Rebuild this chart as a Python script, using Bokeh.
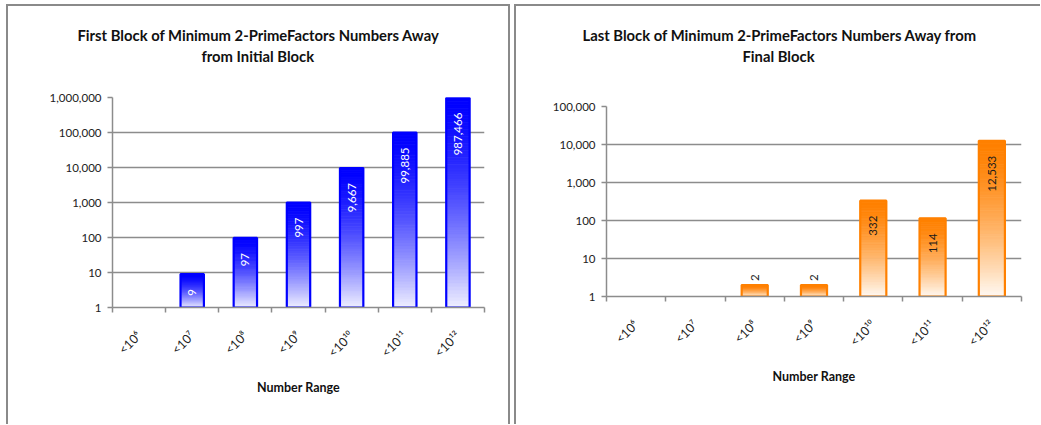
import math
from bokeh.plotting import figure
from bokeh.layouts import row, column
from bokeh.models import FixedTicker, NumeralTickFormatter, Range1d, ColumnDataSource, Title, Spacer
from bokeh.core.properties import value
from bokeh.embed import file_html
from bokeh.resources import INLINE

# ---- data ----
categories = ["<10⁶", "<10⁷", "<10⁸", "<10⁹", "<10¹⁰", "<10¹¹", "<10¹²"]
first_block = [0, 9, 97, 997, 9667, 99885, 987466]
last_block = [0, 0, 2, 2, 332, 114, 12533]
first_yticks = [1, 10, 100, 1000, 10000, 100000, 1000000]
last_yticks = [1, 10, 100, 1000, 10000, 100000]

title_first = ["First Block of Minimum 2-PrimeFactors Numbers Away", "from Initial Block"]
title_last = ["Last Block of Minimum 2-PrimeFactors Numbers Away from", "Final Block"]
x_title = "Number Range"

FONT = "Lato"
GRID = "#8c8c8c"
TITLE_SIZE = "14.8px"


def hex2rgb(h):
    h = h.lstrip("#")
    return tuple(int(h[i:i + 2], 16) for i in (0, 2, 4))


def mix(c1, c2, t):
    a, b = hex2rgb(c1), hex2rgb(c2)
    return "#%02x%02x%02x" % tuple(int(round(a[i] + (b[i] - a[i]) * t)) for i in range(3))


def style_title(t, offset, standoff):
    t.align = "left"
    t.offset = offset
    t.standoff = standoff
    t.text_font = FONT
    t.text_font_size = TITLE_SIZE
    t.text_font_style = "bold"
    t.text_color = "#111111"


def make_chart(values, yticks, title_lines, width, height, borders, title_offsets,
               spacer_standoff, top_col, bot_col, edge_col, label_col, bar_w):
    ml, mr, mt, mb = borders
    p = figure(width=width, height=height, y_axis_type="log",
               x_range=Range1d(0, len(categories)),
               y_range=Range1d(yticks[0], yticks[-1]),
               output_backend="svg", toolbar_location=None,
               min_border_left=ml, min_border_right=mr,
               min_border_top=mt, min_border_bottom=mb)
    p.frame_align = False
    p.outline_line_color = None
    p.background_fill_color = "white"
    p.border_fill_color = "white"

    # title: spacer (nearest the frame), second line, then first line (outermost)
    spacer = Title(text=" ")
    style_title(spacer, 0, spacer_standoff)
    p.add_layout(spacer, "above")
    line2 = Title(text=title_lines[1])
    style_title(line2, title_offsets[1], 1)
    p.add_layout(line2, "above")
    p.title.text = title_lines[0]
    style_title(p.title, title_offsets[0], 1)

    # gradient bars
    N = 60
    g = dict(left=[], right=[], bottom=[], top=[], color=[])
    o = dict(left=[], right=[], bottom=[], top=[])
    lab_in = dict(x=[], y=[], text=[])
    lab_out = dict(x=[], y=[], text=[])
    for i, v in enumerate(values):
        if v <= 0:
            continue
        cx = i + 0.5
        top_log = math.log10(v)
        for k in range(N):
            lo = top_log * k / N
            hi = top_log * (k + 1) / N
            s = 1 - (k + 0.5) / N  # 0 at top, 1 at bottom
            g["left"].append(cx - bar_w / 2)
            g["right"].append(cx + bar_w / 2)
            g["bottom"].append(10 ** lo)
            g["top"].append(10 ** hi)
            g["color"].append(mix(top_col, bot_col, s ** 1.5))
        o["left"].append(cx - bar_w / 2)
        o["right"].append(cx + bar_w / 2)
        o["bottom"].append(1)
        o["top"].append(v)
        target = lab_in if top_log > 0.5 else lab_out
        target["x"].append(cx)
        target["y"].append(v)
        target["text"].append(f"{v:,}")

    p.quad(left="left", right="right", bottom="bottom", top="top",
           fill_color="color", line_color="color", line_width=0.8,
           source=ColumnDataSource(g))
    p.quad(left="left", right="right", bottom="bottom", top="top",
           fill_color=None, line_color=edge_col, line_width=2.2,
           source=ColumnDataSource(o))

    p.text(x="x", y="y", text="text", source=ColumnDataSource(lab_in),
           angle=math.pi / 2, text_align="right", text_baseline="middle",
           y_offset=15, text_font=value(FONT), text_font_size="11.5px",
           text_color=label_col)
    p.text(x="x", y="y", text="text", source=ColumnDataSource(lab_out),
           angle=math.pi / 2, text_align="left", text_baseline="middle",
           y_offset=-4, text_font=value(FONT), text_font_size="11.5px",
           text_color="#1a1a1a")

    # axes
    centers = [i + 0.5 for i in range(len(categories))]
    xa = p.xaxis[0]
    xa.ticker = FixedTicker(ticks=centers, minor_ticks=list(range(len(categories) + 1)))
    xa.major_label_overrides = {c: lab for c, lab in zip(centers, categories)}
    xa.major_label_orientation = math.pi / 4
    xa.major_tick_line_color = None
    xa.major_tick_in = 0
    xa.major_tick_out = 5
    xa.minor_tick_line_color = GRID
    xa.minor_tick_line_width = 1.5
    xa.minor_tick_in = 0
    xa.minor_tick_out = 5
    xa.major_label_standoff = 21
    xa.major_label_text_font = FONT
    xa.major_label_text_font_size = "12.5px"
    xa.major_label_text_color = "#222222"
    xa.axis_line_color = GRID
    xa.axis_line_width = 1.5
    xa.axis_label = x_title
    xa.axis_label_text_font = FONT
    xa.axis_label_text_font_size = "12.5px"
    xa.axis_label_text_font_style = "bold"
    xa.axis_label_text_color = "#111111"
    xa.axis_label_standoff = 12

    ya = p.yaxis[0]
    ya.ticker = FixedTicker(ticks=yticks, minor_ticks=[])
    ya.formatter = NumeralTickFormatter(format="0,0")
    ya.major_tick_line_color = GRID
    ya.major_tick_line_width = 1.5
    ya.major_tick_in = 0
    ya.major_tick_out = 5
    ya.minor_tick_line_color = None
    ya.major_label_standoff = 6
    ya.major_label_text_font = FONT
    ya.major_label_text_font_size = "11.5px"
    ya.major_label_text_color = "#222222"
    ya.axis_line_color = GRID
    ya.axis_line_width = 1.5

    p.xgrid.grid_line_color = None
    p.ygrid.grid_line_color = GRID
    p.ygrid.grid_line_width = 1.5
    return p


p1 = make_chart(first_block, first_yticks, title_first, 504, 420,
                (104, 28, 91, 119), (-35, 89), 12,
                "#0000ff", "#f0f0ff", "#0000ff", "white", 0.44)
p2 = make_chart(last_block, last_yticks, title_last, 526, 420,
                (90, 21, 100, 130), (-24, 136), 21,
                "#ff8000", "#fffaf4", "#ff8000", "#1a1a1a", 0.44)

p1.styles = {"border-left": "2px solid #8a8a8a", "border-top": "2px solid #8a8a8a",
             "border-right": "2px solid #8a8a8a", "box-sizing": "border-box"}
p2.styles = {"border-left": "2px solid #8a8a8a", "border-top": "2px solid #8a8a8a",
             "box-sizing": "border-box"}

layout = column(Spacer(height=4),
                row(Spacer(width=6), p1, Spacer(width=4), p2))
open("out.html", "w").write(file_html(layout, INLINE))
